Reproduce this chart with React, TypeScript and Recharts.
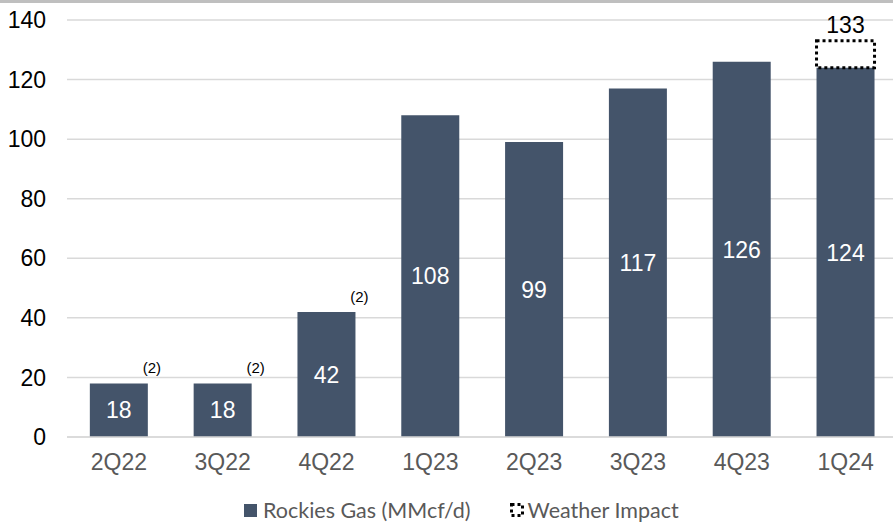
import React from 'react';
import { BarChart, Bar, XAxis, YAxis, CartesianGrid, LabelList, Legend } from 'recharts';

const quarters = ['2Q22', '3Q22', '4Q22', '1Q23', '2Q23', '3Q23', '4Q23', '1Q24'];
const rockiesGas = [18, 18, 42, 108, 99, 117, 126, 124];
const weatherImpact = [0, 0, 0, 0, 0, 0, 0, 9];
const footnotes = ['(2)', '(2)', '(2)', '', '', '', '', ''];
const yTicks = [0, 20, 40, 60, 80, 100, 120, 140];

const data = quarters.map((q, i) => ({
  quarter: q,
  gas: rockiesGas[i],
  weather: weatherImpact[i],
  note: footnotes[i],
  totalLabel: weatherImpact[i] > 0 ? String(rockiesGas[i] + weatherImpact[i]) : '',
}));

const ARIAL = 'Arial, "Liberation Sans", sans-serif';
const BAR = '#44546A';
const FS = 23;

const WeatherShape = (props: any) => {
  const { x, y, width, height } = props;
  if (!height || height <= 0) return <g />;
  return (
    <rect x={x} y={y} width={width} height={height} fill="none" stroke="#000" strokeWidth={3} strokeDasharray="3 3" />
  );
};

const NoteLabel = (props: any) => {
  const { x, y, width, value } = props;
  if (!value) return null;
  return (
    <text x={Number(x) + Number(width) + 4} y={Number(y) - 10} textAnchor="middle" fill="#000" style={{ fontFamily: ARIAL, fontSize: 15 }}>
      {value}
    </text>
  );
};

const TotalLabel = (props: any) => {
  const { x, y, width, value } = props;
  if (!value) return null;
  return (
    <text x={Number(x) + Number(width) / 2} y={Number(y) - 8} textAnchor="middle" fill="#000" style={{ fontFamily: ARIAL, fontSize: FS }}>
      {value}
    </text>
  );
};

const GasLabel = (props: any) => {
  const { x, y, width, height, value } = props;
  return (
    <text
      x={Number(x) + Number(width) / 2}
      y={Number(y) + Number(height) / 2}
      dy="0.36em"
      textAnchor="middle"
      fill="#fff"
      style={{ fontFamily: ARIAL, fontSize: FS }}
    >
      {value}
    </text>
  );
};

const LegendContent = () => (
  <div
    style={{
      display: 'flex',
      alignItems: 'center',
      height: 24,
      paddingLeft: 244,
      fontFamily: 'Lato, "Open Sans", sans-serif',
      fontSize: 21.5,
      color: '#595959',
      whiteSpace: 'nowrap',
    }}
  >
    <span style={{ width: 13, height: 13, background: BAR, display: 'inline-block', marginRight: 6 }} />
    <span>Rockies Gas (MMcf/d)</span>
    <svg width={14} height={14} style={{ marginLeft: 39, marginRight: 4 }}>
      <rect x={1.5} y={1.5} width={11} height={11} fill="none" stroke="#000" strokeWidth={3} strokeDasharray="3 3" />
    </svg>
    <span>Weather Impact</span>
  </div>
);

export default function App() {
  return (
    <div style={{ position: 'fixed', left: 0, top: 0, width: 893, height: 525, overflow: 'hidden', background: '#fff' }}>
      <div style={{ position: 'absolute', left: 0, top: 0, width: 893, height: 3, background: '#BFBFBF', zIndex: 2 }} />
      <BarChart
        width={910}
        height={525}
        data={data}
        margin={{ top: 20, right: 12.5, left: 0, bottom: 3 }}
        barCategoryGap="22%"
      >
        <CartesianGrid vertical={false} stroke="#D9D9D9" strokeWidth={1.5} />
        <XAxis
          dataKey="quarter"
          height={61}
          tickLine={false}
          tickMargin={11}
          axisLine={{ stroke: '#D9D9D9', strokeWidth: 1.5 }}
          tick={{ fill: '#595959', style: { fontSize: FS, fontFamily: ARIAL } }}
          interval={0}
        />
        <YAxis
          width={67}
          domain={[0, 140]}
          ticks={yTicks}
          tickLine={false}
          axisLine={false}
          tickMargin={15}
          tick={{ fill: '#000', style: { fontSize: FS, fontFamily: ARIAL } }}
        />
        <Legend verticalAlign="bottom" height={24} wrapperStyle={{ height: 24 }} content={LegendContent} />
        <Bar dataKey="gas" stackId="a" fill={BAR} isAnimationActive={false} name="Rockies Gas (MMcf/d)">
          <LabelList dataKey="gas" content={GasLabel} />
          <LabelList dataKey="note" content={NoteLabel} />
        </Bar>
        <Bar dataKey="weather" stackId="a" fill="none" shape={WeatherShape} isAnimationActive={false} name="Weather Impact">
          <LabelList dataKey="totalLabel" content={TotalLabel} />
        </Bar>
      </BarChart>
    </div>
  );
}
